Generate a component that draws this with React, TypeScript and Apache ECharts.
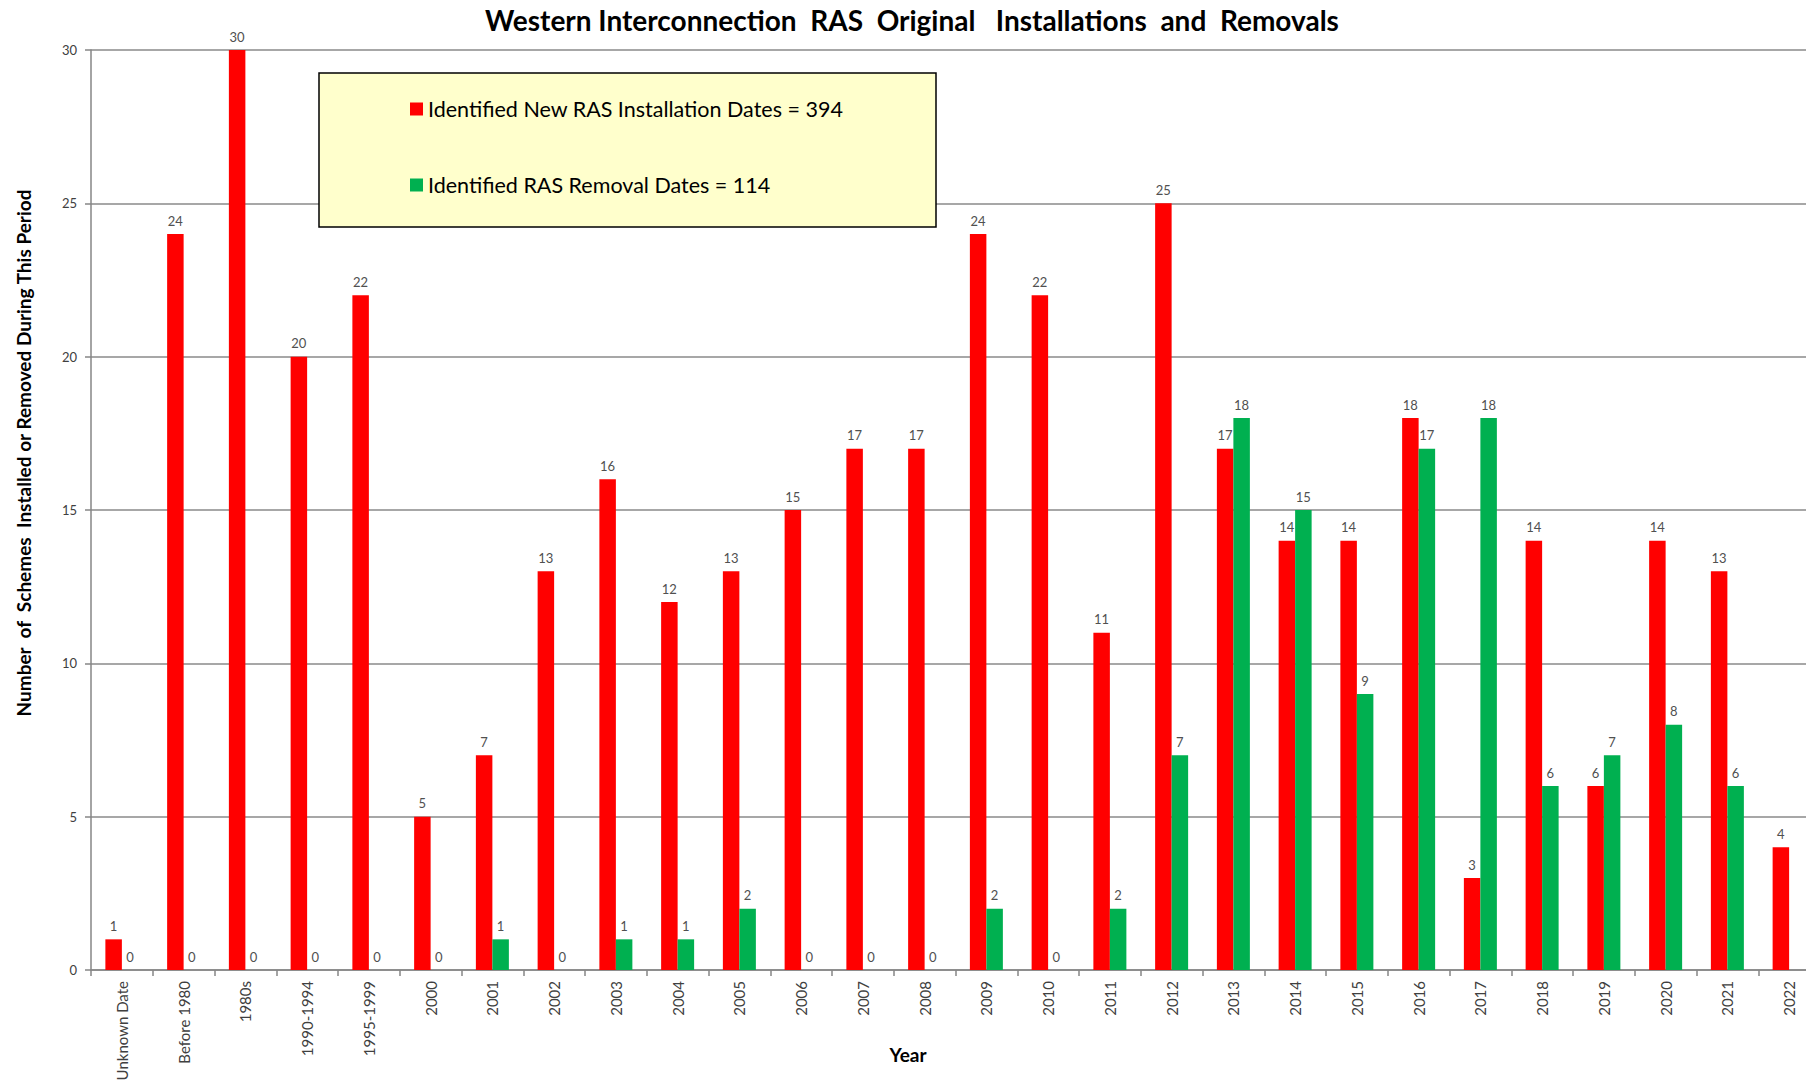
import React, { useEffect, useRef } from "react";
import * as echarts from "echarts";

const categories = [
  "Unknown Date", "Before 1980", "1980s", "1990-1994", "1995-1999", "2000", "2001", "2002",
  "2003", "2004", "2005", "2006", "2007", "2008", "2009", "2010", "2011", "2012", "2013",
  "2014", "2015", "2016", "2017", "2018", "2019", "2020", "2021", "2022",
];
const installations = [
  1, 24, 30, 20, 22, 5, 7, 13, 16, 12, 13, 15, 17, 17, 24, 22, 11, 25, 17, 14, 14, 18, 3, 14, 6, 14, 13, 4,
];
const removals: (number | null)[] = [
  0, 0, 0, 0, 0, 0, 1, 0, 1, 1, 2, 0, 0, 0, 2, 0, 2, 7, 18, 15, 9, 17, 18, 6, 7, 8, 6, null,
];
const seriesNames = [
  "Identified New RAS Installation Dates = 394",
  "Identified RAS Removal Dates = 114",
];
const yTicks = { min: 0, max: 30, interval: 5 };

const FONT = "Lato, 'Noto Sans', sans-serif";
const CHART_W = 1830;

export default function App() {
  const ref = useRef<HTMLDivElement>(null);
  useEffect(() => {
    if (!ref.current) return;
    const chart = echarts.init(ref.current, undefined, { renderer: "svg" });
    const labelStyle = {
      show: true,
      position: "top" as const,
      distance: 7,
      color: "#505050",
      fontSize: 13,
      fontFamily: FONT,
    };
    chart.setOption({
      animation: false,
      backgroundColor: "#ffffff",
      textStyle: { fontFamily: FONT },
      grid: { left: 91, right: 10, top: 50, bottom: 114 },
      graphic: [
        {
          type: "text",
          x: 912,
          y: 20,
          style: {
            text: "Western Interconnection  RAS  Original   Installations  and  Removals",
            font: `bold 28px ${FONT}`,
            fill: "#000000",
            textAlign: "center",
            textVerticalAlign: "middle",
          },
        },
        {
          type: "text",
          x: 23,
          y: 453,
          rotation: Math.PI / 2,
          style: {
            text: "Number  of  Schemes  Installed or Removed During This Period",
            font: `bold 19px ${FONT}`,
            fill: "#000000",
            textAlign: "center",
            textVerticalAlign: "middle",
          },
        },
        {
          type: "text",
          x: 908,
          y: 1054,
          style: {
            text: "Year",
            font: `bold 19px ${FONT}`,
            fill: "#000000",
            textAlign: "center",
            textVerticalAlign: "middle",
          },
        },
        {
          type: "rect",
          z: 5,
          shape: { x: 319, y: 73, width: 617, height: 154 },
          style: { fill: "#FFFFCC", stroke: "#000000", lineWidth: 1.5 },
        },
      ],
      legend: {
        z: 10,
        orient: "vertical",
        left: 405,
        top: 92,
        itemWidth: 13,
        itemHeight: 13,
        itemGap: 52,
        icon: "rect",
        textStyle: { fontSize: 21.5, color: "#000000", fontFamily: FONT, lineHeight: 24 },
        data: seriesNames,
      },
      xAxis: {
        type: "category",
        data: categories,
        axisLine: { show: true, lineStyle: { color: "#868686", width: 1.5 } },
        axisTick: { show: true, interval: 0, length: 6, lineStyle: { color: "#868686", width: 1.5 } },
        axisLabel: {
          interval: 0,
          rotate: 90,
          margin: 11,
          fontSize: 15,
          color: "#404040",
          fontFamily: FONT,
        },
      },
      yAxis: {
        type: "value",
        min: yTicks.min,
        max: yTicks.max,
        interval: yTicks.interval,
        axisLine: { show: true, lineStyle: { color: "#868686", width: 1.5 } },
        axisTick: { show: true, length: 6, lineStyle: { color: "#868686", width: 1.5 } },
        axisLabel: { margin: 14, fontSize: 13, color: "#404040", fontFamily: FONT },
        splitLine: { show: true, lineStyle: { color: "#8a8a8a", width: 1.5 } },
      },
      series: [
        {
          name: seriesNames[0],
          type: "bar",
          data: installations,
          barWidth: 16.5,
          barGap: "0%",
          itemStyle: { color: "#FF0000" },
          label: labelStyle,
        },
        {
          name: seriesNames[1],
          type: "bar",
          data: removals,
          barWidth: 16.5,
          barGap: "0%",
          itemStyle: { color: "#00B050" },
          label: labelStyle,
        },
      ],
    });
    return () => chart.dispose();
  }, []);
  return (
    <div
      style={{
        position: "absolute",
        left: 0,
        top: 0,
        width: 1806,
        height: 1084,
        overflow: "hidden",
      }}
    >
      <div ref={ref} style={{ width: CHART_W, height: 1084 }} />
    </div>
  );
}
